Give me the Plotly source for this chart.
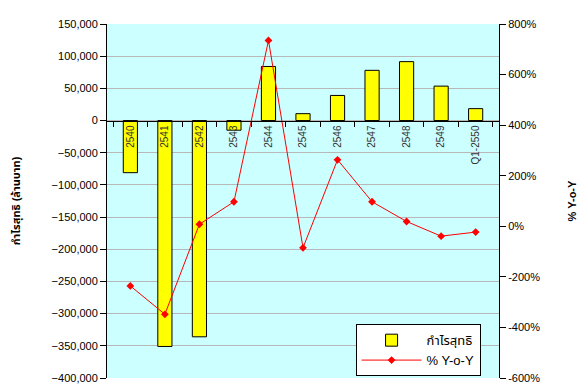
import plotly.graph_objects as go

categories = ["2540", "2541", "2542", "2543", "2544", "2545", "2546", "2547", "2548", "2549", "Q1-2550"]
net_profit = [-81000, -351000, -336000, -15000, 84000, 10700, 39000, 78000, 91500, 53500, 18500]
yoy_pct = [-236, -348, 8, 97, 735, -85, 263, 97, 19, -39, -23]

left_ticks = list(range(-400000, 150001, 50000))
right_ticks = list(range(-600, 801, 200))
right_text = [f"{v}%" for v in right_ticks]

FONT = "Arial, 'Liberation Sans', 'Noto Sans Thai', 'Noto Sans', sans-serif"

fig = go.Figure()
fig.add_trace(go.Bar(
    x=categories, y=net_profit, name="กำไรสุทธิ",
    marker=dict(color="#FFFF00", line=dict(color="black", width=1)),
    width=0.41, yaxis="y",
))
fig.add_trace(go.Scatter(
    x=categories, y=yoy_pct, name="% Y-o-Y", mode="lines+markers",
    line=dict(color="#FF0000", width=1),
    marker=dict(symbol="diamond", size=6, color="#FF0000"),
    yaxis="y2",
))

fig.update_layout(
    width=583, height=390,
    margin=dict(l=107, r=71, t=24, b=6),
    paper_bgcolor="white",
    plot_bgcolor="#CCFFFF",
    font=dict(family=FONT, color="black", size=11),
    xaxis=dict(
        type="category", anchor="free", position=400000 / 550000,
        showline=True, linecolor="black", linewidth=1,
        ticks="outside", ticklen=5, tickcolor="black", tickson="boundaries",
        tickangle=-90, tickfont=dict(size=10, color="#333333"),
        showgrid=False, zeroline=False,
    ),
    yaxis=dict(
        range=[-400000, 150000], tickvals=left_ticks, tickformat=",",
        showline=True, linecolor="black", linewidth=1,
        ticks="outside", ticklen=6, tickcolor="black",
        showgrid=True, gridcolor="#B8B8B8", gridwidth=1,
        zeroline=False,
        title=dict(text="<b>กำไรสุทธิ (ล้านบาท)</b>", font=dict(size=11), standoff=28),
        tickfont=dict(size=11),
    ),
    yaxis2=dict(
        range=[-600, 800], tickvals=right_ticks, ticktext=right_text,
        overlaying="y", side="right",
        showline=True, linecolor="black", linewidth=1,
        ticks="outside", ticklen=6, tickcolor="black",
        showgrid=False, zeroline=False,
        title=dict(text="<b>% Y-o-Y</b>", font=dict(size=11), standoff=29),
        tickfont=dict(size=11),
    ),
    legend=dict(
        x=0.953, xanchor="right", y=0.005, yanchor="bottom",
        bgcolor="white", bordercolor="black", borderwidth=1,
        font=dict(size=13), itemwidth=60,
        tracegroupgap=0,
    ),
)

fig.write_html("out.html")
